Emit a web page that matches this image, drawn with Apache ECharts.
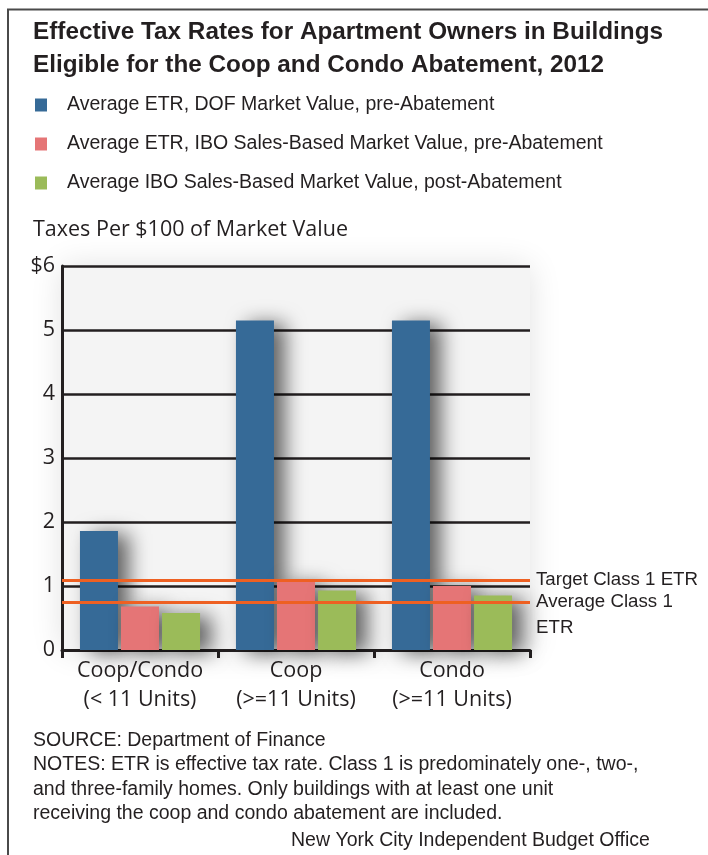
<!DOCTYPE html>
<html>
<head>
<meta charset="utf-8">
<script src="https://cdn.jsdelivr.net/npm/echarts@6/dist/echarts.min.js"></script>
<style>
  html, body { margin: 0; padding: 0; background: #fff; }
  #chart { width: 708px; height: 855px; }
</style>
</head>
<body>
<div id="chart"></div>
<script>
// 数据
const categories = ["Coop/Condo\n(< 11 Units)", "Coop\n(>=11 Units)", "Condo\n(>=11 Units)"];
const seriesNames = [
  "Average ETR, DOF Market Value, pre-Abatement",
  "Average ETR, IBO Sales-Based Market Value, pre-Abatement",
  "Average IBO Sales-Based Market Value, post-Abatement"
];
const dofPre = [1.86, 5.15, 5.15];
const iboPre = [0.68, 1.08, 1.0];
const iboPost = [0.58, 0.93, 0.85];
const targetClass1 = 1.09;
const averageClass1 = 0.75;
const yTicks = [0, 1, 2, 3, 4, 5, 6];

const colors = ["#366a97", "#e57576", "#9bbb59"];
const ink = "#231f20";
const franklin = "'Liberation Sans', Arial, sans-serif";
const myriad = "'Open Sans', 'Noto Sans', sans-serif";

const chart = echarts.init(document.getElementById("chart"), null, { renderer: "canvas" });

const barShadow = {
  shadowBlur: 20,
  shadowColor: "rgba(0,0,0,0.6)",
  shadowOffsetX: 11,
  shadowOffsetY: 3
};

function barSeries(i, data, extra) {
  return Object.assign({
    name: seriesNames[i],
    type: "bar",
    data: data,
    barWidth: 38,
    barGap: "8%",
    itemStyle: Object.assign({ color: colors[i] }, barShadow)
  }, extra || {});
}

chart.setOption({
  animation: false,
  backgroundColor: "#fff",
  textStyle: { fontFamily: myriad },
  title: [
    {
      text: "Effective Tax Rates for Apartment Owners in Buildings\nEligible for the Coop and Condo Abatement, 2012",
      left: 28, top: 11,
      textStyle: { fontFamily: franklin, fontWeight: "bold", fontSize: 24.3, lineHeight: 33, color: ink }
    },
    {
      text: "Taxes Per $100 of Market Value",
      left: 28, top: 214,
      textStyle: { fontFamily: myriad, fontWeight: "normal", fontSize: 21.5, color: ink }
    },
    {
      text: "SOURCE: Department of Finance\nNOTES: ETR is effective tax rate. Class 1 is predominately one-, two-,\nand three-family homes. Only buildings with at least one unit\nreceiving the coop and condo abatement are included.",
      left: 28, top: 723,
      textStyle: { fontFamily: franklin, fontWeight: "normal", fontSize: 19.5, lineHeight: 24.5, color: ink }
    },
    {
      text: "New York City Independent Budget Office",
      left: 286, top: 826,
      textStyle: { fontFamily: franklin, fontWeight: "normal", fontSize: 19.5, color: ink }
    }
  ],
  legend: {
    orient: "vertical",
    left: 30, top: 90,
    itemWidth: 12, itemHeight: 13,
    itemGap: 19,
    icon: "rect",
    data: seriesNames,
    textStyle: { fontFamily: franklin, fontSize: 19.5, color: ink, padding: [0, 0, 0, 15] }
  },
  graphic: [
    {
      type: "polyline",
      shape: { points: [[8, 855], [8, 9.5], [708, 9.5]] },
      style: { stroke: "#4a4a4a", lineWidth: 2, fill: null },
      silent: true
    }
  ],
  grid: {
    left: 62, right: 178, top: 266, bottom: 205,
    show: true,
    backgroundColor: "#f4f4f4",
    borderWidth: 0,
    shadowBlur: 30,
    shadowColor: "rgba(0,0,0,0.12)"
  },
  xAxis: {
    type: "category",
    data: categories,
    axisLine: { lineStyle: { color: ink, width: 3 } },
    axisTick: { show: true, interval: 0, length: 8, lineStyle: { color: ink, width: 3 } },
    axisLabel: { interval: 0, fontFamily: myriad, fontSize: 21.5, lineHeight: 29, color: ink, margin: 6 }
  },
  yAxis: {
    type: "value",
    min: yTicks[0], max: yTicks[yTicks.length - 1], interval: 1,
    axisLine: { show: true, lineStyle: { color: ink, width: 3 } },
    axisTick: { show: false },
    axisLabel: {
      fontFamily: myriad, fontSize: 21.5, color: ink, margin: 7,
      formatter: v => (v === yTicks[yTicks.length - 1] ? "$" + v : String(v))
    },
    splitLine: { lineStyle: { color: ink, width: 2.5 } }
  },
  series: [
    barSeries(0, dofPre),
    barSeries(1, iboPre),
    barSeries(2, iboPost, {
      markLine: {
        silent: true,
        symbol: "none",
        lineStyle: { color: "#ee6022", width: 3, type: "solid" },
        label: {
          position: "end", distance: 6,
          fontFamily: franklin, fontSize: 18.7, lineHeight: 26, color: ink
        },
        data: [
          { yAxis: targetClass1, label: { formatter: "Target Class 1 ETR" } },
          { yAxis: averageClass1, label: { formatter: " \nAverage Class 1\nETR" } }
        ]
      }
    })
  ]
});
</script>
</body>
</html>
